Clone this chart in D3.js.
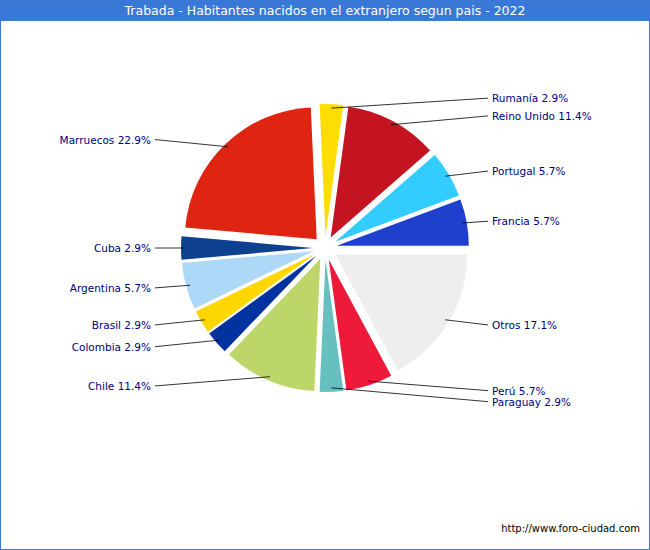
<!DOCTYPE html>
<html><head><meta charset="utf-8">
<script src="https://cdn.jsdelivr.net/npm/d3@7"></script>
<style>body{margin:0}svg{font-family:"DejaVu Sans",sans-serif}</style>
</head><body><svg id="c" width="650" height="550"></svg>
<script>
var paises = ["Francia","Portugal","Reino Unido","Rumanía","Marruecos","Cuba","Argentina","Brasil","Colombia","Chile","Paraguay","Perú","Otros"];
var habitantes = [2,2,4,1,8,1,2,1,1,4,1,2,6];
var porcentajes = ["5.7%","5.7%","11.4%","2.9%","22.9%","2.9%","5.7%","2.9%","2.9%","11.4%","2.9%","5.7%","17.1%"];
var colores = ["#1e40cc","#33ccff","#c41422","#ffdd00","#e02412","#0f3f8f","#aed8f8","#ffd700","#0033a0","#bcd66a","#66c0c0","#ee1a3a","#eeeeee"];

var svg = d3.select("#c");
svg.append("rect").attr("x",0.5).attr("y",0.5).attr("width",649).attr("height",549).attr("fill","#fff").attr("stroke","#3a78d8");
svg.append("rect").attr("width",650).attr("height",21).attr("fill","#3a78d8");
svg.append("text").attr("x",325).attr("y",15).attr("text-anchor","middle").attr("fill","#fff").attr("font-size",12.5)
  .text("Trabada - Habitantes nacidos en el extranjero segun pais - 2022");
svg.append("text").attr("x",640).attr("y",532).attr("text-anchor","end").attr("font-size",10).attr("fill","#000").text("http://www.foro-ciudad.com");

var cx = 325, cy = 248, r = 132, ex = 12;
var total = d3.sum(habitantes);
var ang = d3.scaleLinear().domain([0,total]).range([0,2*Math.PI]);
var cum = d3.cumsum(habitantes);
var g = svg.append("g").attr("transform","translate("+cx+","+cy+")");
var arc = d3.arc().innerRadius(0).outerRadius(r);

var items = paises.map(function(p,i){
  var a0 = ang(cum[i]-habitantes[i]), a1 = ang(cum[i]), m = (a0+a1)/2;
  return {p:p, i:i, a0:a0, a1:a1, m:m};
});
// counterclockwise from 3 o'clock -> d3 angle = PI/2 - a
items.forEach(function(d){
  var dx = ex*Math.cos(d.m), dy = -ex*Math.sin(d.m);
  g.append("path").attr("d", arc({startAngle:Math.PI/2-d.a1, endAngle:Math.PI/2-d.a0}))
    .attr("transform","translate("+dx+","+dy+")").attr("fill",colores[d.i]);
  d.right = Math.cos(d.m) > 0;
  d.ly = -150*Math.sin(d.m);
  d.px = (r+ex-4)*Math.cos(d.m); d.py = -(r+ex-4)*Math.sin(d.m);
});
[true,false].forEach(function(side){
  var s = items.filter(function(d){return d.right===side;}).sort(function(a,b){return a.ly-b.ly;});
  for (var k=1;k<s.length;k++) if (s[k].ly < s[k-1].ly+11) s[k].ly = s[k-1].ly+11;
});
items.forEach(function(d){
  var lx = d.right ? 163 : -170;
  g.append("line").attr("x1",d.px).attr("y1",d.py).attr("x2",lx).attr("y2",d.ly).attr("stroke","#000").attr("stroke-width",0.8);
  g.append("text").attr("x", d.right ? lx+4 : lx-4).attr("y",d.ly+4).attr("text-anchor", d.right?"start":"end")
    .attr("font-size",10.5).attr("fill","#000080").text(d.p+" "+porcentajes[d.i]);
});
</script></body></html>
